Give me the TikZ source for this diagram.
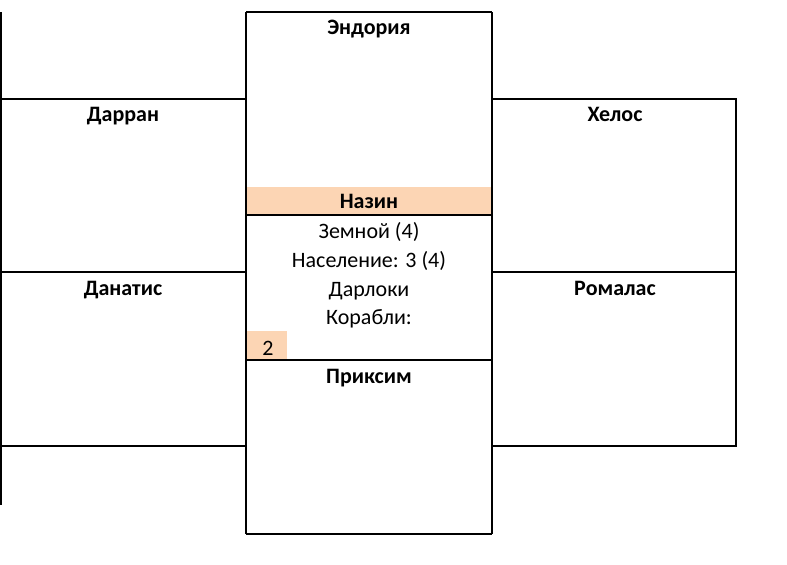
\documentclass[tikz,border=0pt]{standalone}
\usepackage{fontspec}
\setmainfont{Carlito}
\definecolor{peach}{HTML}{FCD5B4}
\begin{document}
\begin{tikzpicture}[x=0.75pt, y=-0.75pt, line width=1.7pt,
  planet/.style={anchor=base, font=\fontsize{16.5}{19}\selectfont\bfseries},
  info/.style={anchor=base, font=\fontsize{16.5}{19}\selectfont}]
\useasboundingbox (0,0) rectangle (787,564);
% highlighted cells
\fill[peach] (247,187) rectangle (492,214);
\fill[peach] (247,331) rectangle (287,359);
% left column
\draw (1,12) -- (1,505);
\draw (0,99) -- (246,99);
\draw (0,272) -- (246,272);
\draw (0,446) -- (246,446);
% middle column
\draw (246,12) -- (492,12);
\draw (246,12) -- (246,534);
\draw (492,12) -- (492,534);
\draw (246,215) -- (492,215);
\draw (246,360) -- (492,360);
\draw (246,534) -- (492,534);
% right column
\draw (492,99) -- (736,99) -- (736,446) -- (492,446);
\draw (492,272) -- (736,272);
% planet names
\node[planet] (endoria) at (369,34.5) {Эндория};
\node[planet] (darran) at (123,121.5) {Дарран};
\node[planet] (helos) at (615,121.5) {Хелос};
\node[planet] (nazin) at (369,208.5) {Назин};
\node[planet] (danatis) at (123,295.5) {Данатис};
\node[planet] (romalas) at (615,295.5) {Ромалас};
\node[planet] (priksim) at (369,383.5) {Приксим};
% details of Назин
\node[info] (type) at (369,238.5) {Земной (4)};
\node[info] (pop) at (369,267.5) {Население: 3 (4)};
\node[info] (race) at (369,296.5) {Дарлоки};
\node[info] (ships) at (369,324.5) {Корабли:};
\node[info] (count) at (268,355) {2};
\end{tikzpicture}
\end{document}
